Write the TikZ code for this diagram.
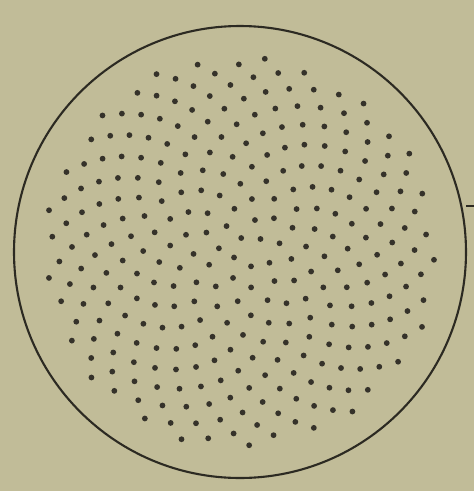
\documentclass[tikz,border=0pt]{standalone}
\usepackage{xcolor}
\usepackage{tikz}
\usetikzlibrary{calc}
\definecolor{paper}{HTML}{C1BC98}
\definecolor{inkdark}{HTML}{2C2A22}
\definecolor{dotink}{HTML}{35322A}
\tikzset{
    rim/.style={draw=inkdark, line width=2.1pt},
    seed/.style={fill=dotink, draw=none},
    tickline/.style={draw=inkdark, line width=1.4pt}
}

\begin{document}
\begin{tikzpicture}[x=1pt,y=-1pt]
        \fill[paper] (0,0) rectangle (474,491);
        \useasboundingbox (0,0) rectangle (474,491);
        \coordinate (centre) at (240,252);
        \coordinate (tickin) at (466,206);
        \coordinate (tickout) at (474,206);
        % seeds laid out on a golden-angle spiral (137.508 = 120 + 17.508)
        \foreach \i in {1,...,296}{
            \pgfmathsetmacro{\rr}{197*sqrt((\i-0.5)/296)}
            \pgfmathsetmacro{\aa}{\i*17.508+120*mod(\i,3)}
            \fill[seed] ($(centre)+(\aa:\rr)$) circle (2.9);
        }
        \draw[rim] (centre) circle (226);
        \draw[tickline] (tickin) -- (tickout);
    \end{tikzpicture}
\end{document}
